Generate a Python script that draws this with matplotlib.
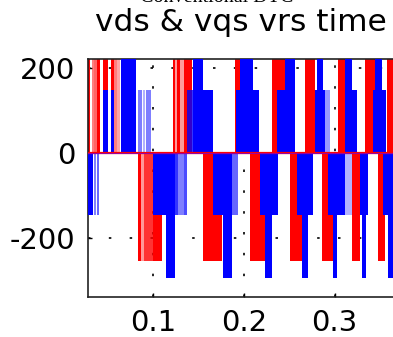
import matplotlib
matplotlib.use("Agg")
import matplotlib.pyplot as plt

# ---- data (switching blocks) ----
# red series (vqs): block start, block end, level, switching density
red_t0 = [0.0278, 0.0317, 0.0345, 0.0372, 0.0444, 0.0533, 0.0566, 0.0599,
          0.1212, 0.1234, 0.1262, 0.1290, 0.1334, 0.1361,
          0.1903, 0.2312, 0.2676, 0.3041, 0.3339, 0.3582,
          0.0831, 0.0864, 0.0897, 0.0997, 0.1549, 0.2069, 0.2511, 0.2864, 0.3196, 0.3483]
red_t1 = [0.0300, 0.0345, 0.0372, 0.0406, 0.0500, 0.0566, 0.0599, 0.0632,
          0.1234, 0.1262, 0.1290, 0.1334, 0.1361, 0.1428,
          0.1958, 0.2455, 0.2787, 0.3118, 0.3472, 0.3693,
          0.0864, 0.0897, 0.0997, 0.1096, 0.1759, 0.2234, 0.2643, 0.3008, 0.3284, 0.3560]
red_level = [254] * 20 + [-254] * 10
red_duty = [1, 0.5, 0.6, 1, 1, 1, 0.5, 0.35,
            1, 0.4, 1, 0.4, 1, 1,
            1, 1, 1, 1, 1, 1,
            1, 0.4, 0.8, 1, 1, 1, 1, 1, 1, 1]

# blue series (vds)
blue_t0 = [0.0643, 0.1439, 0.1958, 0.2455, 0.2809, 0.3118, 0.3450,
           0.0444, 0.0533, 0.0831, 0.0886, 0.0919, 0.1372, 0.1549, 0.1914, 0.2102,
           0.2367, 0.2787, 0.2897, 0.3196, 0.3428,
           0.0278, 0.0339, 0.0372, 0.0997, 0.1240, 0.1273, 0.1334, 0.1660, 0.1870,
           0.2179, 0.2588, 0.2930, 0.3118, 0.3284, 0.3538,
           0.1140, 0.1770, 0.2234, 0.2643, 0.2986, 0.3306, 0.3593]
blue_t1 = [0.0809, 0.1549, 0.2102, 0.2566, 0.2875, 0.3196, 0.3527,
           0.0500, 0.0566, 0.0875, 0.0908, 0.0975, 0.1439, 0.1660, 0.1958, 0.2168,
           0.2455, 0.2897, 0.2953, 0.3251, 0.3571,
           0.0328, 0.0361, 0.0394, 0.1140, 0.1273, 0.1334, 0.1372, 0.1770, 0.1936,
           0.2378, 0.2765, 0.3118, 0.3196, 0.3372, 0.3693,
           0.1240, 0.1870, 0.2312, 0.2709, 0.3030, 0.3350, 0.3638]
blue_level = [294] * 7 + [147] * 14 + [-147] * 15 + [-294] * 7
blue_duty = [1] * 7 + [1, 1, 0.5, 0.3, 0.5, 0.8, 1, 1, 1, 1, 1, 0.4, 1, 1] + \
            [1, 0.5, 0.6, 1, 0.8, 0.5, 0.7, 1, 0.6, 1, 1, 1, 0.3, 1, 1] + [1] * 7

xticks = [0.1, 0.2, 0.3]
yticks = [-200, 0, 200]
title = "vds & vqs vrs time"
suptitle = "Conventional DTC"

# ---- figure ----
fig = plt.figure(figsize=(3.93, 3.37), dpi=100)
ax = fig.add_axes([88 / 393, 40 / 337, 309.5 / 393, 238.5 / 337])

for t0, t1, lv, d in zip(red_t0, red_t1, red_level, red_duty):
    ax.bar(t0, lv, width=t1 - t0, bottom=0, align='edge', color='#ff0000',
           alpha=d, linewidth=0, zorder=2)
for t0, t1, lv, d in zip(blue_t0, blue_t1, blue_level, blue_duty):
    ax.bar(t0, lv, width=t1 - t0, bottom=0, align='edge', color='#0000ff',
           alpha=d, linewidth=0, zorder=3)

ax.axhline(0, color='#ff0000', lw=1.6, zorder=4)
ax.axhline(0, color='#6000ff', lw=0.8, alpha=0.6, zorder=5)

ax.set_xlim(0.0278, 0.3693)
ax.set_ylim(-339, 222)
ax.set_xticks(xticks)
ax.set_yticks(yticks)
ax.set_xticklabels([str(v) for v in xticks])
ax.set_yticklabels([str(v) for v in yticks])
ax.set_axisbelow(True)
ax.grid(True, color='black', linestyle=(0, (1.5, 11)), linewidth=1.2)
ax.tick_params(direction='in', length=3, width=1, labelsize=21, pad=9)
ax.tick_params(axis='x', pad=8.5)
for lab in ax.get_xticklabels() + ax.get_yticklabels():
    lab.set_family('DejaVu Sans')
for s in ax.spines.values():
    s.set_linewidth(1.2)
    s.set_color('#222222')

fig.text(241 / 393, (337 - 31) / 337, title, ha='center', va='baseline',
         fontsize=22.5, family='DejaVu Sans')
fig.text(217 / 393, (337 - 2) / 337, suptitle, ha='center', va='baseline',
         fontsize=14.5, family='Liberation Serif')

fig.savefig('out.png', dpi=100)
